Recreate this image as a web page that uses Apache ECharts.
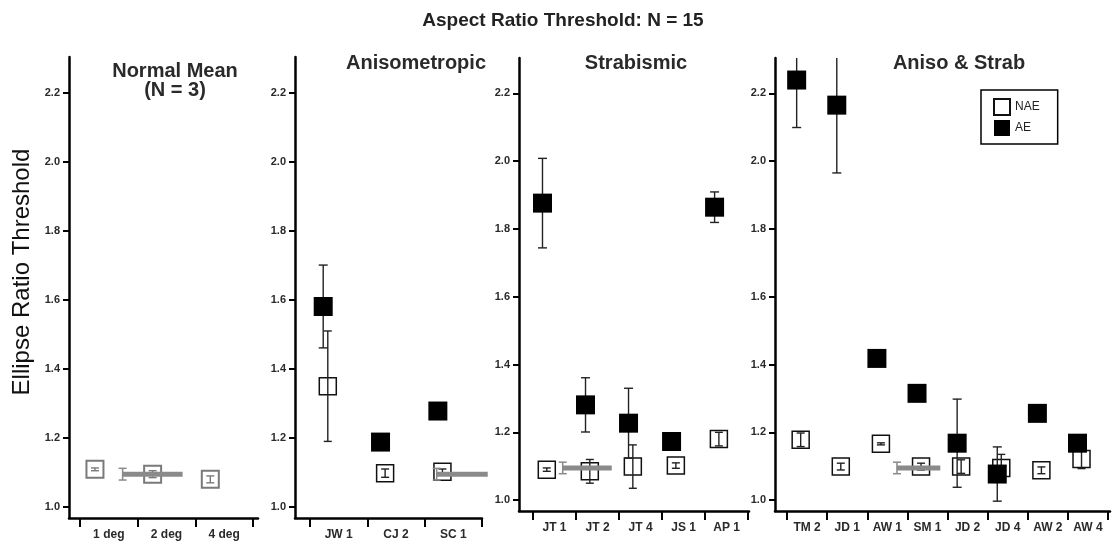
<!DOCTYPE html>
<html>
<head>
<meta charset="utf-8">
<script src="https://cdn.jsdelivr.net/npm/echarts@6/dist/echarts.min.js"></script>
<style>
html,body{margin:0;padding:0;background:#fff;}
#chart{width:1118px;height:545px;}
</style>
</head>
<body>
<div id="chart"></div>
<script>
// ---- data ----
const mainTitle = 'Aspect Ratio Threshold: N = 15';
const yName = 'Ellipse Ratio Threshold';
const yTicks = [1.0, 1.2, 1.4, 1.6, 1.8, 2.0, 2.2];

const catsNormal = ['1 deg', '2 deg', '4 deg'];
const naeNormal = [1.109, 1.095, 1.080];
const naeNormalErr = [0.004, 0.010, 0.010];

const catsAniso = ['JW 1', 'CJ 2', 'SC 1'];
const aeAniso = [1.581, 1.188, 1.278];
const aeAnisoErr = [0.120, 0, 0.012];
const naeAniso = [1.350, 1.098, 1.102];
const naeAnisoErr = [0.160, 0.012, 0.008];

const catsStrab = ['JT 1', 'JT 2', 'JT 4', 'JS 1', 'AP 1'];
const aeStrab = [1.876, 1.281, 1.227, 1.173, 1.864];
const aeStrabErr = [0.132, 0.080, 0.103, 0, 0.045];
const naeStrab = [1.090, 1.085, 1.099, 1.102, 1.180];
const naeStrabErr = [0.005, 0.035, 0.064, 0.008, 0.020];

const catsBoth = ['TM 2', 'JD 1', 'AW 1', 'SM 1', 'JD 2', 'JD 4', 'AW 2', 'AW 4'];
const aeBoth = [2.239, 2.165, 1.418, 1.315, 1.168, 1.077, 1.256, 1.168];
const aeBothErr = [0.140, 0.200, 0, 0, 0.130, 0.080, 0, 0];
const naeBoth = [1.178, 1.099, 1.166, 1.099, 1.099, 1.095, 1.088, 1.121];
const naeBothErr = [0.020, 0.010, 0.003, 0.010, 0.020, 0.040, 0.010, 0.028];

const normRef = 1.095;
const normRefErr = 0.017;

// ---- layout ----
const FONT = '"Liberation Sans", Arial, Helvetica, sans-serif';
const yMin = 0.968, yMax = 2.304;
const panels = [
  {title: 'Normal Mean\n(N = 3)', tx: 170, ty: 57, cats: catsNormal, ae: null, aeErr: null, nae: naeNormal, naeErr: naeNormalErr,
   grid: {left: 69, top: 57, width: 189, height: 461}, xMin: -0.69, xMax: 2.587, offAE: -0.27, offNAE: -0.24, ref: [0.24, 1.28], gray: true},
  {title: 'Anisometropic', tx: 411, ty: 49, cats: catsAniso, ae: aeAniso, aeErr: aeAnisoErr, nae: naeAniso, naeErr: naeAnisoErr,
   grid: {left: 295, top: 57, width: 187, height: 461}, xMin: -0.762, xMax: 2.5, offAE: -0.27, offNAE: -0.19, ref: [1.71, 2.6]},
  {title: 'Strabismic', tx: 631, ty: 49, cats: catsStrab, ae: aeStrab, aeErr: aeStrabErr, nae: naeStrab, naeErr: naeStrabErr,
   grid: {left: 519, top: 58, width: 230, height: 453}, xMin: -0.826, xMax: 4.52, offAE: -0.28, offNAE: -0.18, ref: [0.19, 1.33]},
  {title: 'Aniso & Strab', tx: 954, ty: 49, cats: catsBoth, ae: aeBoth, aeErr: aeBothErr, nae: naeBoth, naeErr: naeBothErr,
   grid: {left: 775, top: 58, width: 335, height: 453}, xMin: -0.80, xMax: 7.55, offAE: -0.26, offNAE: -0.16, ref: [2.24, 3.32]}
];

function errRender(color, cap, lw) {
  return function (params, api) {
    const x = api.value(0), y = api.value(1), e = api.value(2);
    if (!e) return null;
    const t = api.coord([x, y + e]), b = api.coord([x, y - e]);
    const h = cap / 2;
    const st = {stroke: color, lineWidth: lw};
    return {type: 'group', children: [
      {type: 'line', shape: {x1: t[0], y1: t[1], x2: b[0], y2: b[1]}, style: st},
      {type: 'line', shape: {x1: t[0] - h, y1: t[1], x2: t[0] + h, y2: t[1]}, style: st},
      {type: 'line', shape: {x1: b[0] - h, y1: b[1], x2: b[0] + h, y2: b[1]}, style: st}
    ]};
  };
}

function refRender(params, api) {
  const x1 = api.value(0), x2 = api.value(1), y = api.value(2), e = api.value(3);
  const a = api.coord([x1, y]), b = api.coord([x2, y]);
  const t = api.coord([x1, y + e]), bt = api.coord([x1, y - e]);
  const st = {stroke: '#8a8a8a', lineWidth: 1.5};
  return {type: 'group', children: [
    {type: 'line', shape: {x1: t[0], y1: t[1], x2: bt[0], y2: bt[1]}, style: st},
    {type: 'line', shape: {x1: t[0] - 4, y1: t[1], x2: t[0] + 4, y2: t[1]}, style: st},
    {type: 'line', shape: {x1: bt[0] - 4, y1: bt[1], x2: bt[0] + 4, y2: bt[1]}, style: st},
    {type: 'line', shape: {x1: a[0], y1: a[1], x2: b[0], y2: b[1]}, style: {stroke: '#8a8a8a', lineWidth: 5}}
  ]};
}

const grids = [], xAxes = [], yAxes = [], series = [], titles = [];
titles.push({text: mainTitle, left: 558, top: 6, textAlign: 'center',
  textStyle: {fontFamily: FONT, fontSize: 19, fontWeight: 'bold', color: '#222'}});

panels.forEach((p, k) => {
  grids.push(Object.assign({containLabel: false}, p.grid));
  titles.push({text: p.title, left: p.tx, top: p.ty, textAlign: 'center',
    textStyle: {fontFamily: FONT, fontSize: 20, fontWeight: 'bold', color: '#2a2a2a', lineHeight: 19}});
  const n = p.cats.length;
  const tickVals = [];
  for (let i = 0; i <= n; i++) tickVals.push(i - 0.5);
  const labVals = p.cats.map((c, i) => i);
  xAxes.push({
    type: 'value', gridIndex: k, min: p.xMin, max: p.xMax,
    axisLine: {show: true, onZero: false, lineStyle: {color: '#000', width: 2.5}},
    axisTick: {show: true, inside: false, length: 9, customValues: tickVals, lineStyle: {color: '#000', width: 2}},
    axisLabel: {show: true, customValues: labVals, margin: 11, formatter: v => p.cats[Math.round(v)],
      fontFamily: FONT, fontSize: 12, fontWeight: 'bold', color: '#2a2a2a'},
    splitLine: {show: false}
  });
  yAxes.push({
    type: 'value', gridIndex: k, min: yMin, max: yMax,
    axisLine: {show: true, onZero: false, lineStyle: {color: '#000', width: 2.5}},
    axisTick: {show: true, inside: false, length: 6, customValues: yTicks, lineStyle: {color: '#000', width: 2}},
    axisLabel: {show: true, customValues: yTicks, margin: 9, formatter: v => v.toFixed(1),
      fontFamily: FONT, fontSize: 11, fontWeight: 'bold', color: '#2a2a2a'},
    splitLine: {show: false}
  });

  const edge = p.gray ? '#7a7a7a' : '#111';
  series.push({
    name: p.gray ? 'Normal' : 'NAE', type: 'scatter', xAxisIndex: k, yAxisIndex: k,
    symbol: 'rect', symbolSize: 17, z: 2,
    itemStyle: {color: '#fff', borderColor: edge, borderWidth: p.gray ? 2 : 1.5, opacity: 1},
    data: p.nae.map((v, i) => [i + p.offNAE, v])
  });
  series.push({
    type: 'custom', xAxisIndex: k, yAxisIndex: k, z: 3, clip: true,
    renderItem: errRender(p.gray ? '#7a7a7a' : '#222', 8, 1.4),
    data: p.nae.map((v, i) => [i + p.offNAE, v, p.naeErr[i]])
  });
  if (p.ae) {
    series.push({
      type: 'custom', xAxisIndex: k, yAxisIndex: k, z: 3, clip: true,
      renderItem: errRender('#222', 9, 1.4),
      data: p.ae.map((v, i) => [i + p.offAE, v, p.aeErr[i]])
    });
    series.push({
      name: 'AE', type: 'scatter', xAxisIndex: k, yAxisIndex: k,
      symbol: 'rect', symbolSize: 19, z: 4,
      itemStyle: {color: '#000', borderColor: '#000', borderWidth: 0, opacity: 1},
      data: p.ae.map((v, i) => [i + p.offAE, v])
    });
  }
  series.push({
    type: 'custom', xAxisIndex: k, yAxisIndex: k, z: 5, clip: false,
    renderItem: refRender,
    data: [[p.ref[0], p.ref[1], normRef, normRefErr]]
  });
});

const chart = echarts.init(document.getElementById('chart'), null, {renderer: 'canvas'});
chart.setOption({
  animation: false,
  backgroundColor: '#fff',
  title: titles,
  grid: grids,
  xAxis: xAxes,
  yAxis: yAxes,
  legend: {
    data: ['NAE', 'AE'], orient: 'vertical', left: 981, top: 90,
    padding: [8, 18, 8, 12], itemGap: 4, itemWidth: 16, itemHeight: 16,
    borderColor: '#000', borderWidth: 1.5, icon: 'rect',
    textStyle: {fontFamily: FONT, fontSize: 12, color: '#222'},
    selectedMode: false
  },
  graphic: [{
    type: 'text', x: 22, y: 272,
    rotation: Math.PI / 2,
    style: {text: yName, font: '24px ' + FONT, fill: '#111', textAlign: 'center', textVerticalAlign: 'middle'}
  }],
  series: series
});
</script>
</body>
</html>
